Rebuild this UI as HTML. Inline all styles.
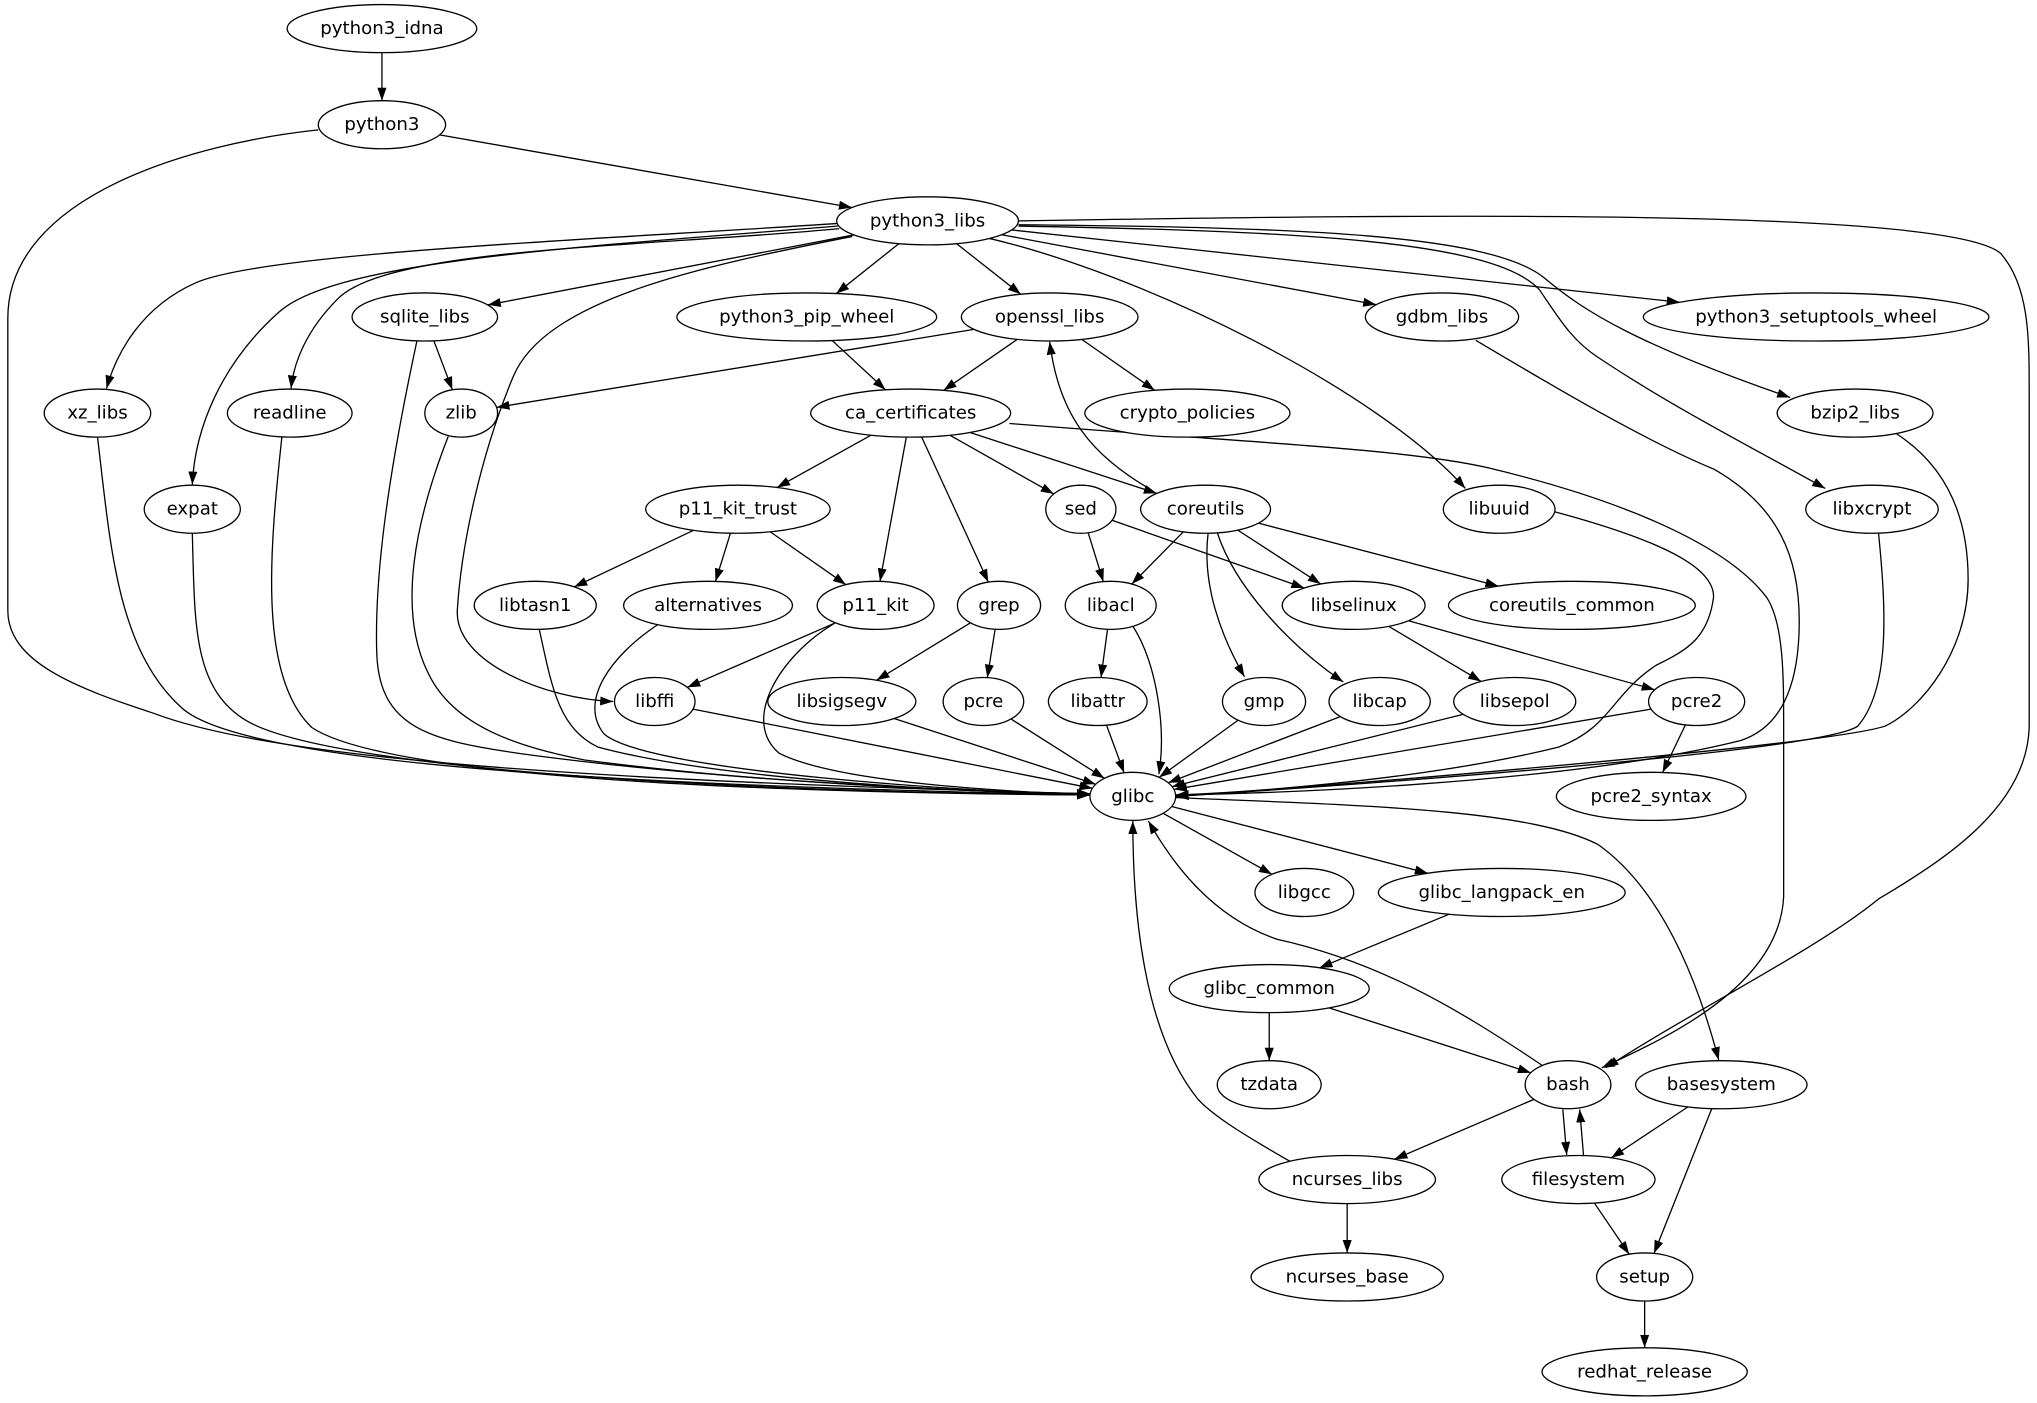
<!DOCTYPE html>
<html><head><meta charset="utf-8"><style>
html,body{margin:0;padding:0;background:#fff}
svg{display:block}
text{font-family:"DejaVu Sans","Liberation Sans",sans-serif;font-size:14px;text-anchor:middle;dominant-baseline:central}
</style></head><body>
<svg id="g" width="2037" height="1403" viewBox="0 0 1568 1080" xmlns="http://www.w3.org/2000/svg">
<defs><marker id="a" markerUnits="userSpaceOnUse" markerWidth="10" markerHeight="8" refX="10" refY="3.5" orient="auto"><path d="M0,0 L10,3.5 L0,7 z" fill="#000"/></marker></defs>
<g id="e" fill="none" stroke="#000" stroke-width="1"></g>
<g id="n"></g>
</svg>
<script>
const N={python3_idna:[294,22,73],python3:[294,96,49],python3_libs:[714,170,70],sqlite_libs:[327,244,56],python3_pip_wheel:[621,244,100],openssl_libs:[808,244,68],gdbm_libs:[1110,244,59],python3_setuptools_wheel:[1398,244,133],xz_libs:[75,318,41],readline:[223,318,48],zlib:[355,318,28],ca_certificates:[701,318,77],crypto_policies:[914,318,79],bzip2_libs:[1428,318,60],expat:[148,392,37],p11_kit_trust:[568,392,71],sed:[832,392,27],coreutils:[928,392,50],libuuid:[1154,392,43],libxcrypt:[1441,392,51],libtasn1:[412,466,47],alternatives:[545,466,65],p11_kit:[674,466,45],grep:[769,466,32],libacl:[855,466,35],libselinux:[1042,466,55],coreutils_common:[1210,466,95],libffi:[504,540,31],libsigsegv:[648,540,57],pcre:[757,540,31],libattr:[845,540,38],gmp:[973,540,32],libcap:[1062,540,39],libsepol:[1166,540,47],pcre2:[1306,540,37],glibc:[872,613,33],pcre2_syntax:[1271,613,73],libgcc:[1004,687,38],glibc_langpack_en:[1156,687,95],glibc_common:[977,761,77],tzdata:[977,835,40],bash:[1207,835,33],basesystem:[1325,835,66],ncurses_libs:[1037,908,68],filesystem:[1215,908,59],ncurses_base:[1037,983,74],setup:[1266,983,37],redhat_release:[1266,1056,79]};
const RY=18.5;
const S=`python3_idna python3
python3 python3_libs
python3_libs sqlite_libs
python3_libs python3_pip_wheel
python3_libs openssl_libs
python3_libs gdbm_libs
python3_libs python3_setuptools_wheel
sqlite_libs zlib
openssl_libs zlib
openssl_libs ca_certificates
openssl_libs crypto_policies
python3_pip_wheel ca_certificates
ca_certificates p11_kit_trust
ca_certificates p11_kit
ca_certificates grep
ca_certificates sed
ca_certificates coreutils
coreutils libacl
coreutils libselinux
coreutils coreutils_common
sed libacl
sed libselinux
p11_kit_trust libtasn1
p11_kit_trust alternatives
p11_kit_trust p11_kit
p11_kit libffi
grep libsigsegv
grep pcre
libacl libattr
libselinux libsepol
libselinux pcre2
libffi glibc
libsigsegv glibc
pcre glibc
libattr glibc
gmp glibc
libcap glibc
libsepol glibc
pcre2 glibc
pcre2 pcre2_syntax
glibc libgcc
glibc glibc_langpack_en
glibc_langpack_en glibc_common
glibc_common tzdata
glibc_common bash
bash ncurses_libs
basesystem filesystem
basesystem setup
ncurses_libs ncurses_base
filesystem setup
setup redhat_release`;
const C=[
"M245,100 C150,110 6,150 6,245 L6,470 C6,510 60,530 118,549 C200,580 400,600 839,611",
"M645,172 C450,185 200,195 150,218 C110,236 90,270 82,299",
"M645,174 C450,190 260,200 215,240 C170,280 150,330 148,373",
"M646,176 C500,190 300,190 260,230 C235,255 226,280 224,299",
"M656,182 C540,205 420,230 395,290 C370,350 355,420 352,470 C350,510 420,538 472,540",
"M784,170 C1100,165 1500,160 1540,195 C1562,220 1562,260 1562,300 L1562,560 C1560,620 1500,660 1446,692 C1400,730 1300,780 1236,822",
"M784,174 C1000,178 1150,185 1185,223 C1200,245 1210,262 1230,275 C1290,315 1350,345 1405,376",
"M784,173 C1000,175 1150,180 1190,215 C1220,240 1260,265 1378,306",
"M755,182 C880,210 1060,300 1128,376",
"M777,326 C950,340 1080,345 1145,360 C1250,385 1330,420 1360,460 C1373,480 1373,520 1373,560 L1373,690 C1370,760 1280,800 1233,822",
"M886,377 C840,350 815,320 808,263",
"M930,410 C925,450 940,490 958,521",
"M937,410 C950,450 990,495 1034,525",
"M321,262 C300,360 288,440 290,503 C292,560 330,570 400,580 C560,602 760,610 839,611",
"M345,336 C320,400 305,470 330,519 C350,560 400,575 450,585 C600,605 780,610 839,611",
"M75,336 C85,420 90,500 140,545 C190,590 500,605 839,612",
"M217,336 C208,420 198,520 240,560 C300,600 600,610 839,612",
"M148,410 C150,480 148,530 190,555 C260,595 600,610 839,612",
"M415,484 C425,530 430,560 460,575 C560,602 760,610 839,612",
"M506,481 C470,505 445,540 465,565 C500,595 760,610 839,612",
"M642,480 C600,505 570,555 600,580 C650,605 800,610 839,612",
"M872,482 C890,510 898,560 892,596",
"M1136,262 C1200,300 1268,340 1319,361 C1370,390 1385,430 1385,478 C1385,530 1370,560 1340,570 C1200,605 960,611 905,612",
"M1197,394 C1290,419 1320,440 1319,460 C1315,490 1300,500 1275,512 C1240,535 1240,560 1200,575 C1100,600 960,610 905,612",
"M1446,410 C1452,470 1455,530 1430,559 C1400,580 1000,607 905,613",
"M1460,334 C1500,360 1515,400 1515,446 C1515,500 1480,545 1451,559 C1400,575 1000,607 905,613",
"M905,614 C1050,620 1177,623 1230,650 C1268,677 1300,729 1323,816",
"M1187,820 C1120,775 1060,740 983,723 C930,705 900,660 884,632",
"M993,894 C960,875 935,860 922,846 C885,800 872,720 872,632",
"M1203,854 L1206,889","M1219,890 L1216,854"];
const ns="http://www.w3.org/2000/svg",E=document.getElementById('e'),G=document.getElementById('n');
function bp(n,px,py){const[cx,cy,rx]=N[n];const dx=px-cx,dy=py-cy;const t=1/Math.sqrt((dx/rx)**2+(dy/RY)**2);return[cx+dx*t,cy+dy*t];}
function path(d){const p=document.createElementNS(ns,'path');p.setAttribute('d',d);p.setAttribute('marker-end','url(#a)');E.appendChild(p);}
S.split('\n').forEach(l=>{const[a,b]=l.trim().split(' ');const A=N[a],B=N[b];const s=bp(a,B[0],B[1]),e=bp(b,A[0],A[1]);path(`M${s[0]},${s[1]} L${e[0]},${e[1]}`);});
C.forEach(path);
for(const k in N){const[cx,cy,rx]=N[k];const el=document.createElementNS(ns,'ellipse');el.setAttribute('cx',cx);el.setAttribute('cy',cy);el.setAttribute('rx',rx);el.setAttribute('ry',RY);el.setAttribute('fill','#fff');el.setAttribute('stroke','#000');G.appendChild(el);const t=document.createElementNS(ns,'text');t.setAttribute('x',cx);t.setAttribute('y',cy);t.textContent=k;G.appendChild(t);}
</script>
</body></html>
